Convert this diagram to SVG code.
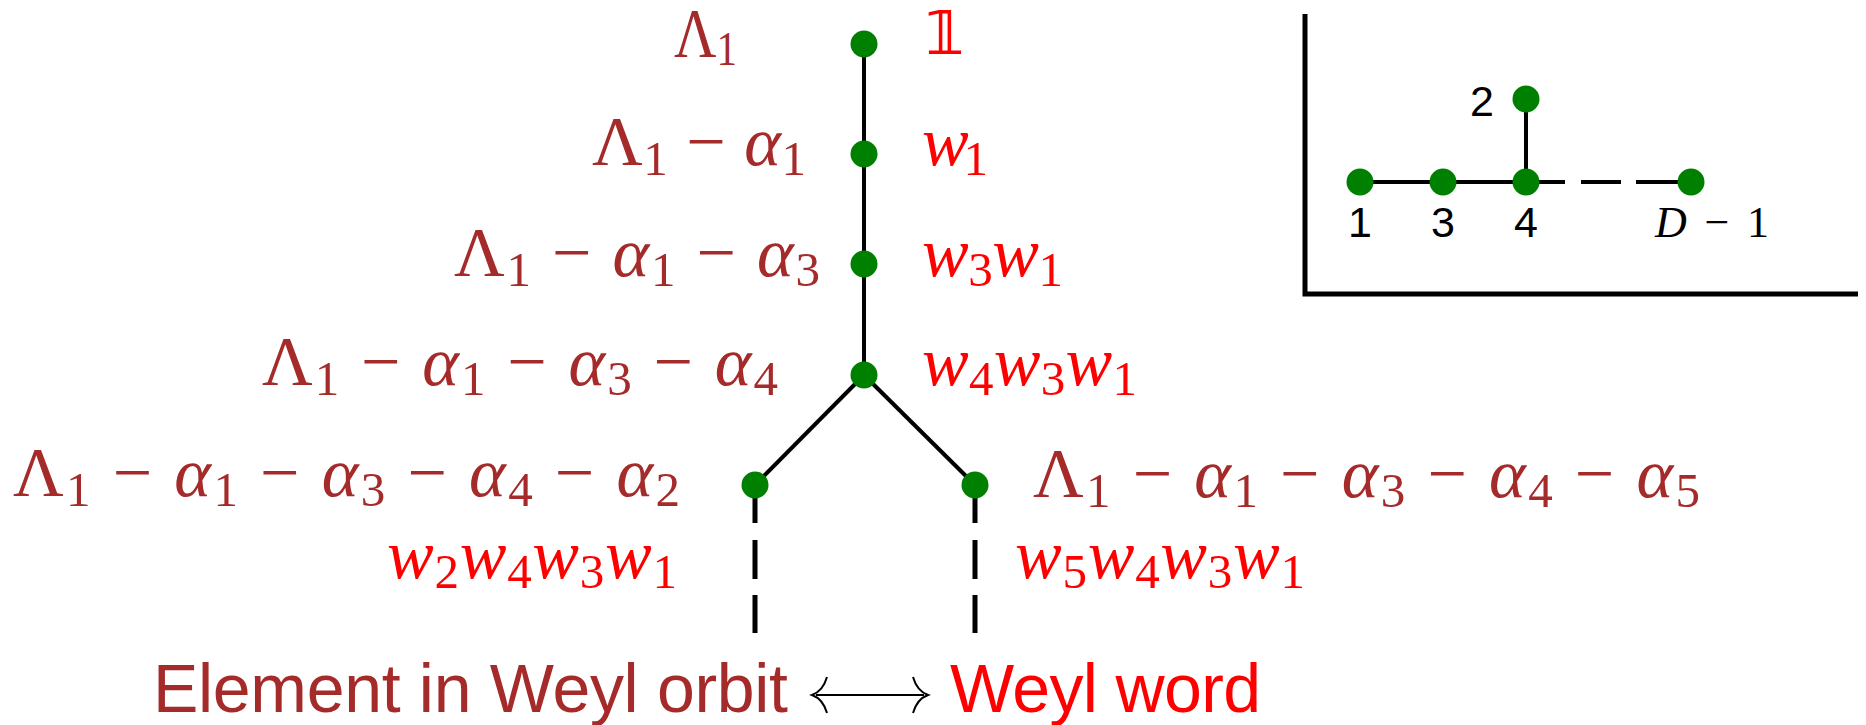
<svg xmlns="http://www.w3.org/2000/svg" width="1866" height="725" viewBox="0 0 1866 725">
<style>
.m{font-family:"Liberation Serif","DejaVu Serif",serif;font-size:70px}
.i{font-style:italic}
.s{font-size:49px;font-style:normal}
.br{fill:#A52A2A}
.rd{fill:#FF0000}
.sans{font-family:"Liberation Sans",Arial,sans-serif}
.nd{fill:#008000}
.ln{stroke:#000;stroke-width:4;fill:none}
.dl{stroke:#000;stroke-width:5;fill:none}
.dg{font-size:43px}
</style>
<rect width="1866" height="725" fill="#fff"/>
<g id="connectors">
<line class="ln" x1="864" y1="44" x2="864" y2="375"/>
<line class="ln" x1="864" y1="375" x2="755" y2="485" stroke-width="3.6"/>
<line class="ln" x1="864" y1="375" x2="975" y2="485" stroke-width="3.6"/>
<line class="dl" x1="755" y1="485" x2="755" y2="633" stroke-dasharray="38 17 39 16 38"/>
<line class="dl" x1="975" y1="485" x2="975" y2="633" stroke-dasharray="38 17 39 16 38"/>
</g>
<g id="n1"><circle class="nd" cx="864" cy="44" r="13.5"/>
<text class="m br" x="674" y="57" textLength="63" lengthAdjust="spacingAndGlyphs">Λ<tspan class="s" dy="8">1</tspan></text>
<text class="rd" x="924" y="54" font-family="DejaVu Sans,'Noto Sans',sans-serif" font-size="60" font-weight="bold">𝟙</text></g>
<g id="n2"><circle class="nd" cx="864" cy="154" r="13.5"/>
<text class="m br" x="592" y="165" textLength="214">Λ<tspan class="s" dy="10">1</tspan><tspan dy="-10"> − </tspan><tspan class="i">α</tspan><tspan class="s" dy="10">1</tspan></text>
<text class="m rd" x="922" y="165" textLength="66"><tspan class="i">w</tspan><tspan class="s" dy="10">1</tspan></text></g>
<g id="n3"><circle class="nd" cx="864" cy="264" r="13.5"/>
<text class="m br" x="454" y="276" textLength="366">Λ<tspan class="s" dy="10">1</tspan><tspan dy="-10"> − </tspan><tspan class="i">α</tspan><tspan class="s" dy="10">1</tspan><tspan dy="-10"> − </tspan><tspan class="i">α</tspan><tspan class="s" dy="10">3</tspan></text>
<text class="m rd" x="922" y="276" textLength="141"><tspan class="i">w</tspan><tspan class="s" dy="10">3</tspan><tspan class="i" dy="-10">w</tspan><tspan class="s" dy="10">1</tspan></text></g>
<g id="n4"><circle class="nd" cx="864" cy="375" r="13.5"/>
<text class="m br" x="262" y="385" textLength="516">Λ<tspan class="s" dy="10">1</tspan><tspan dy="-10"> − </tspan><tspan class="i">α</tspan><tspan class="s" dy="10">1</tspan><tspan dy="-10"> − </tspan><tspan class="i">α</tspan><tspan class="s" dy="10">3</tspan><tspan dy="-10"> − </tspan><tspan class="i">α</tspan><tspan class="s" dy="10">4</tspan></text>
<text class="m rd" x="922" y="385" textLength="215"><tspan class="i">w</tspan><tspan class="s" dy="10">4</tspan><tspan class="i" dy="-10">w</tspan><tspan class="s" dy="10">3</tspan><tspan class="i" dy="-10">w</tspan><tspan class="s" dy="10">1</tspan></text></g>
<g id="n5"><circle class="nd" cx="755" cy="485" r="13.5"/>
<text class="m br" x="13" y="496" textLength="667">Λ<tspan class="s" dy="10">1</tspan><tspan dy="-10"> − </tspan><tspan class="i">α</tspan><tspan class="s" dy="10">1</tspan><tspan dy="-10"> − </tspan><tspan class="i">α</tspan><tspan class="s" dy="10">3</tspan><tspan dy="-10"> − </tspan><tspan class="i">α</tspan><tspan class="s" dy="10">4</tspan><tspan dy="-10"> − </tspan><tspan class="i">α</tspan><tspan class="s" dy="10">2</tspan></text>
<text class="m rd" x="387" y="578" textLength="290"><tspan class="i">w</tspan><tspan class="s" dy="10">2</tspan><tspan class="i" dy="-10">w</tspan><tspan class="s" dy="10">4</tspan><tspan class="i" dy="-10">w</tspan><tspan class="s" dy="10">3</tspan><tspan class="i" dy="-10">w</tspan><tspan class="s" dy="10">1</tspan></text></g>
<g id="n6"><circle class="nd" cx="975" cy="485" r="13.5"/>
<text class="m br" x="1033" y="497" textLength="667">Λ<tspan class="s" dy="10">1</tspan><tspan dy="-10"> − </tspan><tspan class="i">α</tspan><tspan class="s" dy="10">1</tspan><tspan dy="-10"> − </tspan><tspan class="i">α</tspan><tspan class="s" dy="10">3</tspan><tspan dy="-10"> − </tspan><tspan class="i">α</tspan><tspan class="s" dy="10">4</tspan><tspan dy="-10"> − </tspan><tspan class="i">α</tspan><tspan class="s" dy="10">5</tspan></text>
<text class="m rd" x="1015" y="578" textLength="290"><tspan class="i">w</tspan><tspan class="s" dy="10">5</tspan><tspan class="i" dy="-10">w</tspan><tspan class="s" dy="10">4</tspan><tspan class="i" dy="-10">w</tspan><tspan class="s" dy="10">3</tspan><tspan class="i" dy="-10">w</tspan><tspan class="s" dy="10">1</tspan></text></g>
<g id="legend">
<text class="sans br" x="153" y="712" font-size="68" textLength="635">Element in Weyl orbit</text>
<path d="M816 695 H924" stroke="#000" stroke-width="2.2" fill="none"/>
<path d="M827 677 Q823 691 812 695 Q823 699 827 713" stroke="#000" stroke-width="2" fill="none"/>
<path d="M913 677 Q917 691 928 695 Q917 699 913 713" stroke="#000" stroke-width="2" fill="none"/>
<text class="sans rd" x="950" y="712" font-size="68" textLength="311">Weyl word</text>
</g>
<g id="inset">
<path d="M1305 14 V294 H1858" stroke="#000" stroke-width="5" fill="none"/>
<g id="inset-edges">
<line class="ln" x1="1360" y1="182" x2="1526" y2="182"/>
<line class="ln" x1="1526" y1="99" x2="1526" y2="182"/>
<line class="ln" x1="1526" y1="182" x2="1691" y2="182" stroke-dasharray="39 16 40 15 60"/>
</g>
<g id="d1"><circle class="nd" cx="1360" cy="182" r="13.5"/><text class="sans dg" x="1360" y="237" text-anchor="middle">1</text></g>
<g id="d3"><circle class="nd" cx="1443" cy="182" r="13.5"/><text class="sans dg" x="1443" y="237" text-anchor="middle">3</text></g>
<g id="d4"><circle class="nd" cx="1526" cy="182" r="13.5"/><text class="sans dg" x="1526" y="237" text-anchor="middle">4</text></g>
<g id="d2"><circle class="nd" cx="1526" cy="99" r="13.5"/><text class="sans dg" x="1482" y="116" text-anchor="middle">2</text></g>
<g id="dD"><circle class="nd" cx="1691" cy="182" r="13.5"/><text class="m" x="1655" y="237" style="font-size:44px" textLength="114"><tspan class="i">D</tspan> − 1</text></g>
</g>
</svg>
